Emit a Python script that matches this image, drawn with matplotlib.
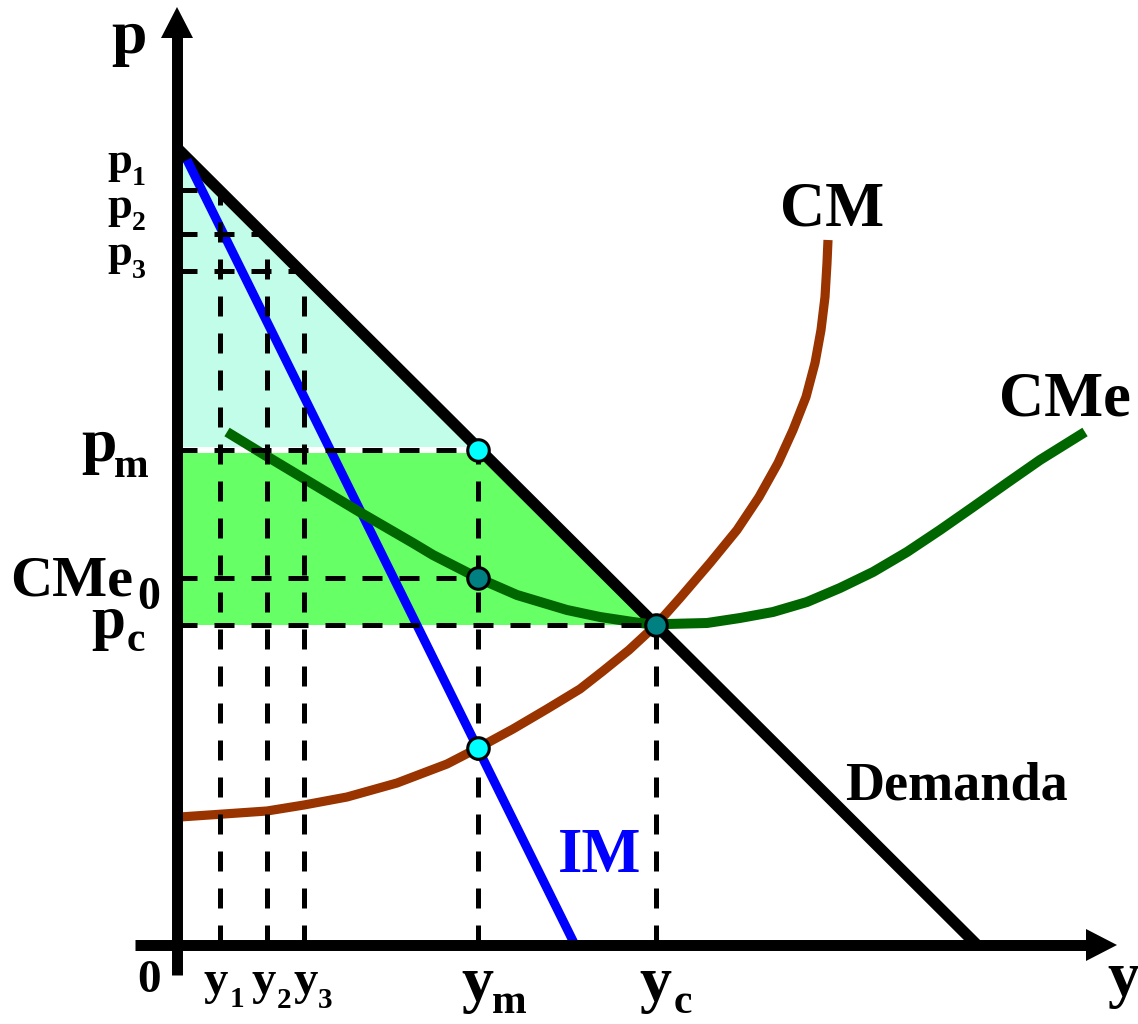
import numpy as np
import matplotlib.pyplot as plt

plt.rcParams["font.family"] = "Liberation Serif"
plt.rcParams["font.weight"] = "bold"

# ---------------------------------------------------------------------------
# Data (quantity y on x-axis, price p on y-axis)
# ---------------------------------------------------------------------------
demand_y = [0, 800]
demand_p = [797, 0]

im_y = [10, 398]
im_p = [785, 0]

cm_y = [3, 90, 127, 170, 220, 270, 301, 336, 370, 403, 426, 452, 479,
        503, 533, 560, 582, 601, 616, 629, 638, 644, 648, 650, 651]
cm_p = [128, 134, 140, 148, 162, 181, 197, 216, 236, 256, 274, 295, 320,
        347, 382, 415, 448, 482, 515, 548, 582, 615, 648, 682, 705]

cme_y = [50, 86, 136, 186, 236, 256, 301, 340, 390, 423, 456, 479, 490,
         530, 563, 596, 630, 663, 696, 730, 763, 796, 830, 863, 908]
cme_p = [513, 491, 461, 431, 402, 390, 367, 350, 335, 328, 323, 320, 321,
         322, 327, 333, 343, 357, 373, 393, 415, 438, 462, 485, 513]

y_steps = [43, 90, 127]          # y1, y2, y3
p_steps = [755, 711, 674]        # p1, p2, p3
y_m, p_m = 301, 495
cme_0 = 367
im_at_ym = 197
y_c, p_c = 479, 320

# ---------------------------------------------------------------------------
# Figure
# ---------------------------------------------------------------------------
fig = plt.figure(figsize=(11.38, 10.24), dpi=100)
ax = fig.add_axes([0, 0, 1, 1])
ax.set_xlim(-177, 961)
ax.set_ylim(-79, 945)
ax.axis("off")

CYAN_FILL = "#c2fdea"
GREEN_FILL = "#66ff66"
GAP = 3

# shaded areas
d_at_pm_hi = np.interp(p_m + GAP, demand_p[::-1], demand_y[::-1])
d_at_pm_lo = np.interp(p_m - GAP, demand_p[::-1], demand_y[::-1])
ax.fill([0, 0, d_at_pm_hi], [demand_p[0], p_m + GAP, p_m + GAP],
        color=CYAN_FILL, lw=0, zorder=1)
ax.fill([0, 0, d_at_pm_lo, y_c], [p_c, p_m - GAP, p_m - GAP, p_c],
        color=GREEN_FILL, lw=0, zorder=1)

# curves
ax.plot(demand_y, demand_p, color="black", lw=8.2, zorder=3,
        solid_capstyle="butt")
ax.plot(im_y, im_p, color="#0000ff", lw=6.5, zorder=3, solid_capstyle="butt")
ax.plot(cm_y, cm_p, color="#993300", lw=6.6, zorder=3,
        solid_capstyle="butt", solid_joinstyle="round")
ax.plot(cme_y, cme_p, color="#006600", lw=7.2, zorder=3,
        solid_capstyle="butt", solid_joinstyle="round")

# dashed guides
dash = dict(color="black", lw=3.6, ls=(0, (4, 3.4)), zorder=4)
for yy, pp in zip(y_steps, p_steps):
    ax.plot([0, yy], [pp, pp], **dash)
    ax.plot([yy, yy], [0, pp], **dash)
ax.plot([0, y_m], [p_m, p_m], **dash)
ax.plot([0, y_m], [cme_0, cme_0], **dash)
ax.plot([y_m, y_m], [0, p_m], **dash)
ax.plot([0, y_c], [p_c, p_c], **dash)
ax.plot([y_c, y_c], [0, p_c], **dash)

# axes with arrow heads
ax.plot([-42, 912], [0, 0], color="black", lw=7.9, zorder=5,
        solid_capstyle="butt")
ax.plot([0, 0], [-30, 910], color="black", lw=7.9, zorder=5,
        solid_capstyle="butt")
ax.fill([909, 940, 909], [-16, 0, 16], color="black", lw=0, zorder=5)
ax.fill([-16, 0, 16], [907, 938, 907], color="black", lw=0, zorder=5)

# points
ax.plot([y_m, y_m], [p_m, im_at_ym], ls="none", marker="o", ms=15.5,
        mfc="#00ffff", mec="black", mew=2.2, zorder=6)
ax.plot([y_m, y_c], [cme_0, p_c], ls="none", marker="o", ms=15.5,
        mfc="#008080", mec="black", mew=2.2, zorder=6)


def label(x, y, main, size, sub=None, sx=0, sy=0, ssize=None, color="black"):
    """Main text at (x, y) baseline/left, optional subscript at (sx, sy)."""
    ax.text(x, y, main, fontsize=size, ha="left", va="baseline", color=color)
    if sub is not None:
        ax.text(sx, sy, sub, fontsize=ssize, ha="left", va="baseline",
                color=color)


# axis names
label(-66, 892, "p", 46)
label(930, -50, "y", 46)
label(-40, -47, "0", 34)

# price labels
label(-70, 772, "p", 32, "1", -45, 760, 20)
label(-70, 727, "p", 32, "2", -45, 715, 20)
label(-70, 680, "p", 32, "3", -45, 667, 20)
label(-96, 484, "p", 46, "m", -63, 468, 30)
label(-167, 350, "CMe", 42, "0", -40, 336, 33)
label(-86, 307, "p", 44, "c", -50, 294, 30)

# quantity labels
label(27, -49, "y", 35, "1", 53, -62, 21)
label(74, -49, "y", 35, "2", 100, -63, 21)
label(117, -49, "y", 35, "3", 141, -63, 21)
label(284, -55, "y", 46, "m", 315, -68, 30)
label(462, -55, "y", 46, "c", 497, -68, 30)

# curve names
ax.text(655, 720, "CM", fontsize=45, ha="center", va="baseline")
ax.text(888, 530, "CMe", fontsize=45, ha="center", va="baseline")
ax.text(779, 146, "Demanda", fontsize=39, ha="center", va="baseline")
ax.text(423, 73, "IM", fontsize=45, ha="center", va="baseline",
        color="#0000ff")

fig.savefig("out.png", dpi=100, facecolor="white")
